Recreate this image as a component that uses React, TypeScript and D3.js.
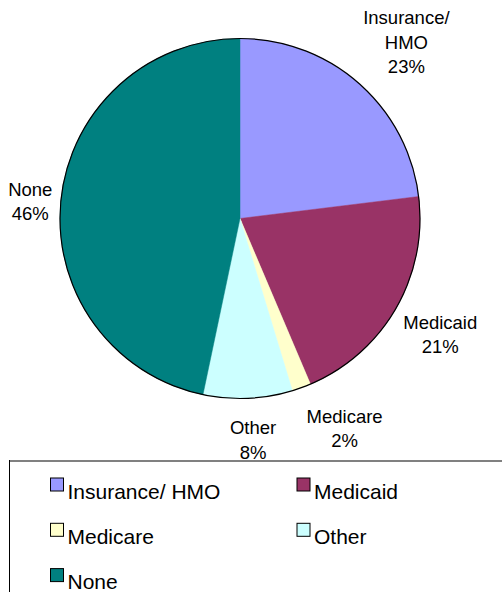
import React from "react";
import * as d3 from "d3";

const categories = ["Insurance/ HMO", "Medicaid", "Medicare", "Other", "None"];
const pieLabelLines = [["Insurance/", "HMO"], ["Medicaid"], ["Medicare"], ["Other"], ["None"]];
const values = [23.05, 20.55, 1.7, 8.0, 46.7];
const pctLabels = ["23%", "21%", "2%", "8%", "46%"];
const colors = ["#9999FF", "#993366", "#FFFFCC", "#CCFFFF", "#008080"];

const W = 502;
const H = 592;
const cx = 240;
const cy = 218.5;
const R = 180;
const labelR = 230;
const lineH = 24.5;
const font = "'Liberation Sans', Arial, sans-serif";

// small placement tweaks (Excel-style outside labels)
const nudges: Record<string, [number, number]> = {
  "Insurance/ HMO": [14, -4],
  Medicaid: [1, 1],
  Medicare: [26, -6],
  Other: [3, -8.5],
  None: [19, 7],
};

export default function App() {
  const data = categories.map((c, i) => ({ c, v: values[i], i }));
  const pie = d3.pie<any>().value((d) => d.v).sort(null);
  const arcs = pie(data);
  const arc = d3.arc<any>().innerRadius(0).outerRadius(R);
  const labelArc = d3.arc<any>().innerRadius(labelR).outerRadius(labelR);

  const legendItems = categories.map((c, i) => ({
    c,
    color: colors[i],
    col: i % 2,
    row: Math.floor(i / 2),
  }));

  return (
    <svg
      width={W}
      height={H}
      style={{ position: "absolute", left: 0, top: 0, background: "#fff" }}
      fontFamily={font}
    >
      <rect x={0} y={0} width={W} height={H} fill="#fff" />
      <g transform={`translate(${cx},${cy})`}>
        {arcs.map((a, i) => (
          <path key={i} d={arc(a) || ""} fill={colors[i]} stroke={colors[i]} strokeWidth={0.5} />
        ))}
        <circle r={R} fill="none" stroke="#000" strokeWidth={1.2} />
        {arcs.map((a, i) => {
          const [lx, ly] = labelArc.centroid(a);
          const [nx, ny] = nudges[categories[i]];
          const lines = [...pieLabelLines[i], pctLabels[i]];
          const x = lx + nx;
          const yc = ly + ny;
          const first = yc - ((lines.length - 1) * lineH) / 2 + 6.5;
          return (
            <text key={i} x={x} textAnchor="middle" fontSize={18.5} fill="#000">
              {lines.map((t, k) => (
                <tspan key={k} x={x} y={first + k * lineH}>
                  {t}
                </tspan>
              ))}
            </text>
          );
        })}
      </g>
      {/* legend */}
      <line x1={9.5} y1={461} x2={W} y2={461} stroke="#808080" strokeWidth={2} />
      <line x1={9.5} y1={460} x2={9.5} y2={H} stroke="#000" strokeWidth={1} />
      {legendItems.map((d, i) => {
        const sx = 50.5 + d.col * 246.5;
        const sy = 478 + d.row * 45.3;
        return (
          <g key={i}>
            <rect x={sx} y={sy} width={13} height={13} fill={d.color} stroke="#000" strokeWidth={1} />
            <text x={sx + 17} y={sy + 20.5} fontSize={21} fill="#000">
              {d.c}
            </text>
          </g>
        );
      })}
    </svg>
  );
}
